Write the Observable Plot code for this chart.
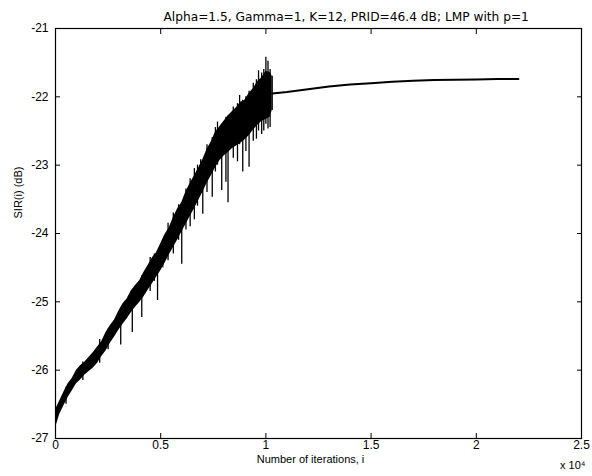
<!DOCTYPE html>
<html><head><meta charset="utf-8">
<script src="https://cdn.jsdelivr.net/npm/d3@7"></script>
<script src="https://cdn.jsdelivr.net/npm/@observablehq/plot@0.6"></script>
<style>body{margin:0;background:#fff} svg{font-family:"Liberation Sans",Arial,Helvetica,sans-serif}</style>
</head><body><div id="chart"></div>
<script>
const titleText = "Alpha=1.5, Gamma=1, K=12, PRID=46.4 dB; LMP with p=1";
const xLabel = "Number of iterations, i";
const yLabel = "SIR(i) (dB)";
const xMultiplier = "x 10⁴";
const xTicks = [0, 0.5, 1, 1.5, 2, 2.5];
const yTicks = [-27, -26, -25, -24, -23, -22, -21];

// noisy (adaptive) phase: core band of SIR(i), iterations in units of 10^4
const noisyIter = [0.00,0.02,0.04,0.06,0.08,0.10,0.12,0.14,0.16,0.18,0.20,0.22,0.24,0.26,0.28,0.30,0.32,0.34,0.36,0.38,0.40,0.42,0.44,0.46,0.48,0.50,0.52,0.54,0.56,0.58,0.60,0.62,0.64,0.66,0.68,0.70,0.72,0.74,0.76,0.78,0.80,0.82,0.84,0.86,0.88,0.90,0.92,0.94,0.96,0.98,1.00,1.02,1.03];
const noisyHigh = [-26.58,-26.45,-26.32,-26.20,-26.12,-26.00,-25.93,-25.88,-25.81,-25.74,-25.66,-25.58,-25.45,-25.35,-25.27,-25.14,-25.03,-24.96,-24.84,-24.76,-24.69,-24.57,-24.47,-24.36,-24.28,-24.15,-24.02,-23.92,-23.77,-23.64,-23.55,-23.39,-23.27,-23.16,-23.04,-22.92,-22.77,-22.66,-22.52,-22.44,-22.36,-22.28,-22.22,-22.16,-22.08,-22.05,-21.95,-21.88,-21.78,-21.72,-21.63,-21.64,-21.70];
const noisyLow  = [-26.85,-26.65,-26.52,-26.40,-26.30,-26.20,-26.14,-26.07,-26.02,-25.97,-25.90,-25.80,-25.72,-25.61,-25.52,-25.42,-25.33,-25.25,-25.16,-25.08,-25.01,-24.93,-24.83,-24.74,-24.64,-24.55,-24.44,-24.32,-24.21,-24.10,-23.98,-23.87,-23.75,-23.64,-23.52,-23.40,-23.27,-23.16,-23.04,-22.94,-22.87,-22.82,-22.76,-22.72,-22.68,-22.63,-22.57,-22.49,-22.42,-22.36,-22.33,-22.30,-22.20];

// individual excursions (spikes) out of the band
const spikeIter   = [0.05,0.13,0.21,0.25,0.31,0.365,0.41,0.45,0.47,0.485,0.51,0.535,0.56,0.585,0.60,0.62,0.64,0.66,0.675,0.69,0.70,0.72,0.745,0.76,0.77,0.79,0.81,0.82,0.845,0.865,0.875,0.89,0.905,0.92,0.94,0.955,0.965,0.98,0.99,1.00,1.01,1.02,1.03];
const spikeTop    = [-26.25,-25.88,-25.55,-25.40,-25.10,-24.85,-24.62,-24.35,-24.30,-24.25,-24.10,-23.85,-23.70,-23.58,-23.55,-23.35,-23.20,-23.05,-23.00,-22.92,-22.95,-22.70,-22.60,-22.45,-22.37,-22.40,-22.30,-22.28,-22.15,-22.10,-21.98,-22.05,-22.00,-21.92,-21.80,-21.75,-21.62,-21.65,-21.60,-21.42,-21.48,-21.60,-21.70];
const spikeBottom = [-26.50,-26.15,-25.90,-25.70,-25.63,-25.45,-25.23,-24.85,-24.70,-24.98,-24.50,-24.40,-24.30,-24.10,-24.45,-23.95,-23.90,-23.80,-23.60,-23.40,-23.72,-23.40,-23.47,-23.10,-23.00,-23.37,-23.25,-23.55,-22.90,-22.95,-22.70,-23.10,-22.80,-23.03,-22.65,-22.62,-22.50,-22.55,-22.50,-22.40,-22.47,-22.45,-22.20];

// converged phase
const smoothIter = [1.03, 1.10, 1.20, 1.30, 1.40, 1.50, 1.60, 1.70, 1.80, 1.90, 2.00, 2.10, 2.20];
const smoothSIR  = [-21.95,-21.93,-21.89,-21.85,-21.82,-21.80,-21.78,-21.765,-21.755,-21.75,-21.745,-21.74,-21.74];

const band = noisyIter.map((x, i) => ({x, lo: noisyLow[i], hi: noisyHigh[i]}));
const spikes = spikeIter.map((x, i) => ({x, top: spikeTop[i], bottom: spikeBottom[i]}));
const smooth = smoothIter.map((x, i) => ({x, y: smoothSIR[i]}));

const fmt = d => String(d);
const chart = Plot.plot({
  width: 592, height: 476,
  marginLeft: 55, marginRight: 11, marginTop: 28, marginBottom: 38,
  x: {domain: [0, 2.5], label: null},
  y: {domain: [-27, -21], label: null},
  style: {fontSize: "12px", fontFamily: '"Liberation Sans",Arial,sans-serif', color: "black", background: "white", overflow: "visible"},
  marks: [
    Plot.areaY(band, {x: "x", y1: "lo", y2: "hi", fill: "black", curve: "linear"}),
    Plot.ruleX(spikes, {x: "x", y1: "bottom", y2: "top", stroke: "black", strokeWidth: 1.3}),
    Plot.line(smooth, {x: "x", y: "y", stroke: "black", strokeWidth: 2}),
    Plot.frame({stroke: "black", strokeWidth: 1.2}),
    Plot.axisX({ticks: xTicks, tickSize: -5, tickPadding: 7, tickFormat: fmt, fontSize: 12}),
    Plot.axisX({anchor: "top", ticks: xTicks, tickSize: -5, tickFormat: () => ""}),
    Plot.axisY({ticks: yTicks, tickSize: -5, tickPadding: 12, tickFormat: fmt, fontSize: 12}),
    Plot.axisY({anchor: "right", ticks: yTicks, tickSize: -5, tickFormat: () => ""}),
    Plot.text([titleText], {frameAnchor: "top-left", textAnchor: "start", dx: 108, dy: -16, fontSize: 12.2, fontFamily: '"DejaVu Sans",sans-serif'}),
    Plot.text([yLabel], {frameAnchor: "left", rotate: -90, dx: -37, dy: -15, fontSize: 11}),
    Plot.text([xLabel], {frameAnchor: "bottom", dx: -8, dy: 24, fontSize: 11}),
    Plot.text([xMultiplier], {frameAnchor: "bottom-right", dx: 4, dy: 30, fontSize: 11})
  ]
});
document.getElementById("chart").appendChild(chart);
</script>
</body></html>
